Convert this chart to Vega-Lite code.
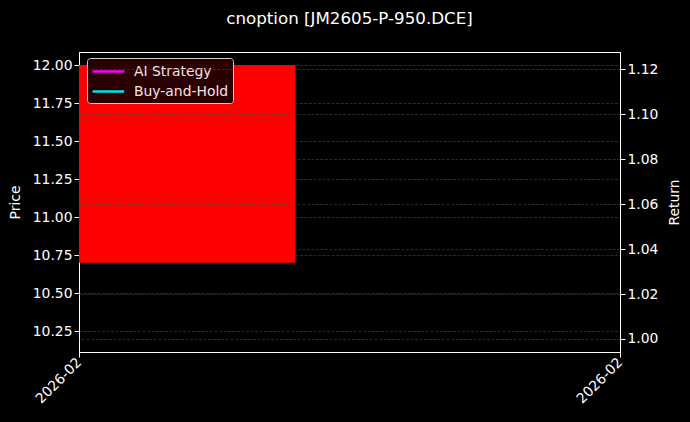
{
  "$schema": "https://vega.github.io/schema/vega-lite/v6.json",
  "width": 541,
  "height": 300,
  "autosize": "none",
  "padding": {"left": 79, "top": 52, "right": 70, "bottom": 70},
  "background": "black",
  "title": {"text": "cnoption [JM2605-P-950.DCE]", "color": "white", "fontSize": 16.7, "font": "DejaVu Sans", "fontWeight": "normal", "offset": 24, "anchor": "middle"},
  "config": {
    "view": {"stroke": "white", "strokeWidth": 1},
    "font": "DejaVu Sans",
    "axis": {"labelColor": "white", "titleColor": "white", "domainColor": "white", "tickColor": "white", "labelFont": "DejaVu Sans", "titleFont": "DejaVu Sans", "labelFontSize": 13.9, "titleFontSize": 13.9, "titleFontWeight": "normal", "tickSize": 5, "gridColor": "#444444", "gridDash": [3, 1.5], "gridWidth": 0.6}
  },
  "layer": [
    {
      "data": {"values": [{"start": "2026-02-02T00:00:00", "end": "2026-02-02T04:00:00", "open": 12.0, "close": 10.7}]},
      "mark": {"type": "rect", "color": "#ff0000"},
      "encoding": {
        "x": {"field": "start", "type": "temporal", "scale": {"domain": [{"year": 2026, "month": 2, "date": 2, "hours": 0}, {"year": 2026, "month": 2, "date": 2, "hours": 10}]}, "axis": {"values": [{"year": 2026, "month": 2, "date": 2, "hours": 0}, {"year": 2026, "month": 2, "date": 2, "hours": 10}], "format": "%Y-%m", "labelAngle": -45, "labelAlign": "right", "labelBaseline": "middle", "labelDx": -13, "title": null, "grid": false, "labelPadding": 3}},
        "x2": {"field": "end"},
        "y": {"field": "open", "type": "quantitative", "scale": {"domain": [10.112, 12.086], "nice": false, "zero": false}, "axis": {"title": "Price", "values": [10.25, 10.5, 10.75, 11.0, 11.25, 11.5, 11.75, 12.0], "format": ".2f", "grid": true, "titlePadding": 10}},
        "y2": {"field": "close"}
      }
    },
    {
      "data": {"values": [{"date": "2026-02-02T00:00:00", "series": "AI Strategy", "ret": 1.0}, {"date": "2026-02-02T00:00:00", "series": "Buy-and-Hold", "ret": 1.0}]},
      "mark": {"type": "line", "strokeWidth": 2},
      "encoding": {
        "x": {"field": "date", "type": "temporal"},
        "y": {"field": "ret", "type": "quantitative", "scale": {"domain": [0.9942, 1.1277], "nice": false, "zero": false}, "axis": {"orient": "right", "title": "Return", "titleAngle": 270, "values": [1.0, 1.02, 1.04, 1.06, 1.08, 1.1, 1.12], "format": ".2f", "grid": true, "zindex": 1, "titlePadding": 24}},
        "color": {"field": "series", "type": "nominal", "scale": {"domain": ["AI Strategy", "Buy-and-Hold"], "range": ["#ff00ff", "#00e5e5"]}, "legend": {"orient": "none", "legendX": 8, "legendY": 6, "title": null, "fillColor": "#2a0000", "strokeColor": "#cccccc", "cornerRadius": 3, "padding": 4, "labelColor": "#f5e6e6", "labelFontSize": 13.9, "labelFont": "DejaVu Sans", "symbolType": "M-1,0H3", "symbolSize": 250, "symbolStrokeWidth": 2.5, "rowPadding": 3, "labelOffset": 24}}
      }
    }
  ],
  "resolve": {"scale": {"y": "independent"}}
}
